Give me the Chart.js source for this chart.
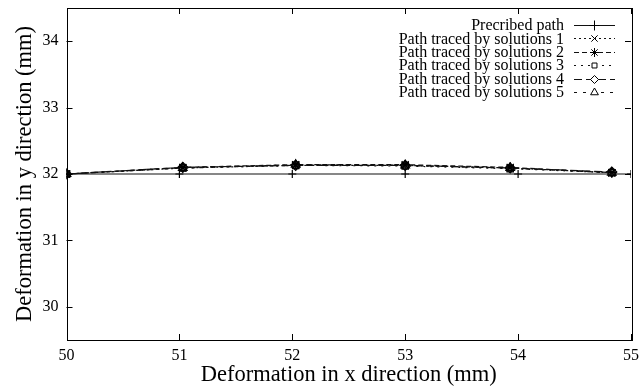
<!DOCTYPE html>
<html>
<head>
<meta charset="utf-8">
<script src="https://cdn.jsdelivr.net/npm/chart.js@4/dist/chart.umd.min.js"></script>
<style>
html,body{margin:0;padding:0;background:#fff;}
#wrap{width:640px;height:389px;position:relative;}
</style>
</head>
<body>
<div id="wrap"><canvas id="c" width="640" height="389"></canvas></div>
<script>
// ---- data ----
const xTicks = [50, 51, 52, 53, 54, 55];
const yTicks = [30, 31, 32, 33, 34];
const prescribedX = [50, 51, 52, 53, 54, 55];
const prescribedY = [32, 32, 32, 32, 32, 32];
const solutionX = [50, 51.03, 52.03, 53.0, 53.93, 54.83];
const sol1Y = [32, 32.09, 32.13, 32.13, 32.09, 32.02];
const sol2Y = [32, 32.10, 32.14, 32.14, 32.10, 32.02];
const sol3Y = [32, 32.09, 32.13, 32.12, 32.08, 32.02];
const sol4Y = [32, 32.10, 32.13, 32.13, 32.09, 32.03];
const sol5Y = [32, 32.09, 32.14, 32.13, 32.09, 32.02];
const seriesLabels = [
  'Precribed path',
  'Path traced by solutions 1',
  'Path traced by solutions 2',
  'Path traced by solutions 3',
  'Path traced by solutions 4',
  'Path traced by solutions 5'
];

function pts(xs, ys){ return xs.map((x,i)=>({x:x, y:ys[i]})); }

const FONT = "'Liberation Serif', 'DejaVu Serif', serif";

const styles = [
  {dash: [], point: 'cross', r: 4},
  {dash: [2,3], point: 'crossRot', r: 5},
  {dash: [5,3], point: 'star', r: 5},
  {dash: [2,5], point: 'rect', r: 4.5},
  {dash: [8,4], point: 'rectRot', r: 5},
  {dash: [3,6], point: 'triangle', r: 5}
];
const legendRadius = [5, 4.5, 4.5, 3.5, 4, 4.5];

const ys = [prescribedY, sol1Y, sol2Y, sol3Y, sol4Y, sol5Y];
const datasets = ys.map((y, i) => ({
  label: seriesLabels[i],
  data: pts(i === 0 ? prescribedX : solutionX, y),
  borderColor: '#111',
  backgroundColor: 'rgba(255,255,255,0)',
  borderWidth: 1.2,
  borderDash: styles[i].dash,
  pointStyle: styles[i].point,
  pointRadius: styles[i].r,
  pointBorderColor: '#000',
  pointBorderWidth: 1.2,
  pointBackgroundColor: 'rgba(255,255,255,0)',
  showLine: true,
  tension: 0
}));

const framePlugin = {
  id: 'frame',
  afterDraw(chart){
    const ctx = chart.ctx, a = chart.chartArea;
    const xs = chart.scales.x, yS = chart.scales.y;
    ctx.save();
    ctx.strokeStyle = '#000';
    ctx.lineWidth = 1;
    ctx.setLineDash([]);
    ctx.strokeRect(Math.round(a.left)+0.5, Math.round(a.top)+0.5, Math.round(a.right-a.left), Math.round(a.bottom-a.top));
    const L = 6;
    ctx.beginPath();
    xTicks.forEach(v => {
      const px = Math.round(xs.getPixelForValue(v)) + 0.5;
      ctx.moveTo(px, a.bottom); ctx.lineTo(px, a.bottom - L);
      ctx.moveTo(px, a.top); ctx.lineTo(px, a.top + L);
    });
    yTicks.forEach(v => {
      const py = Math.round(yS.getPixelForValue(v)) + 0.5;
      ctx.moveTo(a.left, py); ctx.lineTo(a.left + L, py);
      ctx.moveTo(a.right, py); ctx.lineTo(a.right - L, py);
    });
    ctx.stroke();

    // legend (gnuplot style: text right-aligned, sample on the right)
    const textRight = 564, sx0 = 574, sx1 = 615, rowTop = 25, rowH = 13.4;
    ctx.font = '16px ' + FONT;
    ctx.textAlign = 'right';
    ctx.textBaseline = 'middle';
    chart.data.datasets.forEach((ds, i) => {
      const y = rowTop + i * rowH;
      ctx.fillStyle = '#000';
      ctx.fillText(ds.label, textRight, y + 1);
      ctx.strokeStyle = '#111';
      ctx.lineWidth = 1;
      ctx.beginPath();
      ctx.setLineDash(ds.borderDash);
      ctx.moveTo(sx0, Math.round(y) + 0.5); ctx.lineTo(sx1, Math.round(y) + 0.5);
      ctx.stroke();
      ctx.setLineDash([]);
      ctx.fillStyle = '#fff';
      ctx.strokeStyle = '#000';
      Chart.helpers.drawPoint(ctx, {pointStyle: ds.pointStyle, radius: legendRadius[i], rotation: 0, borderWidth: 1}, (sx0 + sx1) / 2, Math.round(y) + 0.5);
    });
    ctx.restore();
  }
};

new Chart(document.getElementById('c'), {
  type: 'scatter',
  data: { datasets: datasets },
  options: {
    responsive: false,
    animation: false,
    devicePixelRatio: 1,
    layout: { padding: { left: 0, top: 8, right: 9, bottom: 0 } },
    plugins: { legend: { display: false }, tooltip: { enabled: false } },
    scales: {
      x: {
        type: 'linear', min: 50, max: 55,
        afterBuildTicks: s => { s.ticks = xTicks.map(v => ({value: v})); },
        afterFit: s => { s.height = 49; s.paddingLeft = 0; s.paddingRight = 0; },
        grid: { display: false, drawTicks: false },
        border: { display: false },
        ticks: { color: '#000', font: { family: FONT, size: 16 }, padding: 6, maxRotation: 0 },
        title: { display: true, text: 'Deformation in x direction (mm)', color: '#000', font: { family: FONT, size: 22.5 }, padding: { top: 0, bottom: 0 } }
      },
      y: {
        type: 'linear', min: 29.5, max: 34.5,
        afterBuildTicks: s => { s.ticks = yTicks.map(v => ({value: v})); },
        afterFit: s => { s.width = 66.5; s.paddingTop = 0; s.paddingBottom = 0; },
        grid: { display: false, drawTicks: false },
        border: { display: false },
        ticks: { color: '#000', font: { family: FONT, size: 16 }, padding: 8 },
        title: { display: true, text: 'Deformation in y direction (mm)', color: '#000', font: { family: FONT, size: 22.5 }, padding: { top: 12, bottom: 0 } }
      }
    }
  },
  plugins: [framePlugin]
});
</script>
</body>
</html>
